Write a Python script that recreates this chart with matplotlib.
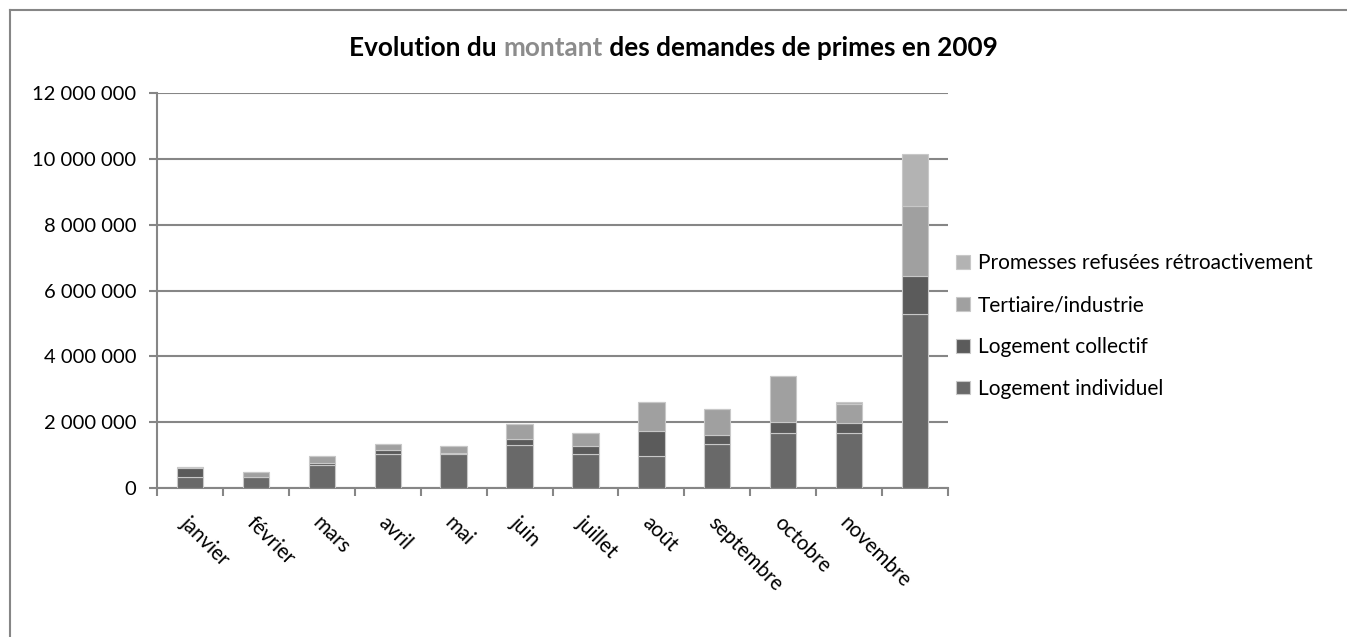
import matplotlib
matplotlib.use("Agg")
import matplotlib.pyplot as plt
import matplotlib.transforms as mtransforms
from matplotlib.ticker import FuncFormatter, FixedLocator
import numpy as np

plt.rcParams['font.family'] = ['Lato', 'DejaVu Sans']

# months (the 12th bar has no label in the original)
mois = ["janvier", "février", "mars", "avril", "mai", "juin", "juillet",
        "août", "septembre", "octobre", "novembre", ""]

# values (euros)
logement_individuel = [330000, 330000, 710000, 1040000, 1030000, 1320000,
                       1040000, 970000, 1350000, 1680000, 1680000, 5290000]
logement_collectif = [270000, 0, 40000, 120000, 40000, 180000,
                      250000, 750000, 250000, 330000, 280000, 1150000]
tertiaire_industrie = [40000, 160000, 220000, 190000, 220000, 430000,
                       380000, 890000, 810000, 1380000, 600000, 2120000]
promesses_refusees = [10000, 0, 0, 0, 0, 0,
                      0, 0, 0, 0, 50000, 1580000]

series = [
    ("Logement individuel", logement_individuel, "#696969"),
    ("Logement collectif", logement_collectif, "#5b5b5b"),
    ("Tertiaire/industrie", tertiaire_industrie, "#a0a0a0"),
    ("Promesses refusées rétroactivement", promesses_refusees, "#b3b3b3"),
]

W, H = 1347, 637
fig = plt.figure(figsize=(W / 100, H / 100), dpi=100)
ax = fig.add_axes([157 / W, 1 - 488 / H, (948 - 157) / W, (488 - 93) / H])

x = np.arange(len(mois))
bottom = np.zeros(len(mois))
handles = []
for name, vals, col in series:
    vals = np.array(vals, dtype=float)
    b = ax.bar(x, vals, width=0.4, bottom=bottom, color=col,
               edgecolor="#c8c8c8", linewidth=0.8, label=name, zorder=3)
    handles.append(b)
    bottom += vals

ax.set_xlim(-0.5, len(mois) - 0.5)
ax.set_ylim(0, 12000000)
ax.set_yticks(np.arange(0, 12000001, 2000000))
ax.yaxis.set_major_formatter(FuncFormatter(lambda v, p: "{:,}".format(int(v)).replace(",", " ")))
ax.grid(axis="y", color="#868686", linewidth=1.5, zorder=0)

for s in ["top", "right"]:
    ax.spines[s].set_visible(False)
for s in ["left", "bottom"]:
    ax.spines[s].set_color("#868686")
    ax.spines[s].set_linewidth(1.5)

ax.tick_params(axis="y", length=6, width=1.5, color="#868686", labelsize=14.5, pad=9)
ax.set_xticks(x)
ax.set_xticklabels(mois, rotation=-45, ha="left", va="center", rotation_mode="anchor", fontsize=14.8)
ax.tick_params(axis="x", which="major", length=0, pad=23)
ax.xaxis.set_minor_locator(FixedLocator(np.arange(-0.5, len(mois), 1.0)))
ax.tick_params(axis="x", which="minor", length=6, width=1.5, color="#868686")
off = mtransforms.ScaledTranslation(-6 / 100, 0, fig.dpi_scale_trans)
for lab in ax.get_xticklabels():
    lab.set_transform(lab.get_transform() + off)

leg = ax.legend(handles=handles[::-1], loc="center left", bbox_to_anchor=(1.0, 0.41),
                frameon=False, fontsize=15, handlelength=0.65, handleheight=0.65,
                handletextpad=0.4, labelspacing=1.05, borderaxespad=0.0)

# title with "montant" in grey
fig.canvas.draw()
renderer = fig.canvas.get_renderer()
parts = [("Evolution du ", "black"), ("montant", "#8c8c8c"),
         (" des demandes de primes en 2009", "black")]
texts = []
for t, c in parts:
    texts.append(fig.text(0, 1 - 48 / H, t, color=c, fontsize=18.8, fontweight="bold",
                          va="center", ha="left"))
widths = [tx.get_window_extent(renderer).width for tx in texts]
xpos = (W - sum(widths)) / 2
for tx, w in zip(texts, widths):
    tx.set_x(xpos / W)
    xpos += w

# chart frame (only top and left edges visible)
fig.add_artist(plt.Line2D([10 / W, 1], [1 - 10 / H, 1 - 10 / H], color="#868686", lw=1.5))
fig.add_artist(plt.Line2D([10 / W, 10 / W], [0, 1 - 10 / H], color="#868686", lw=1.5))

fig.savefig("out.png", dpi=100)
